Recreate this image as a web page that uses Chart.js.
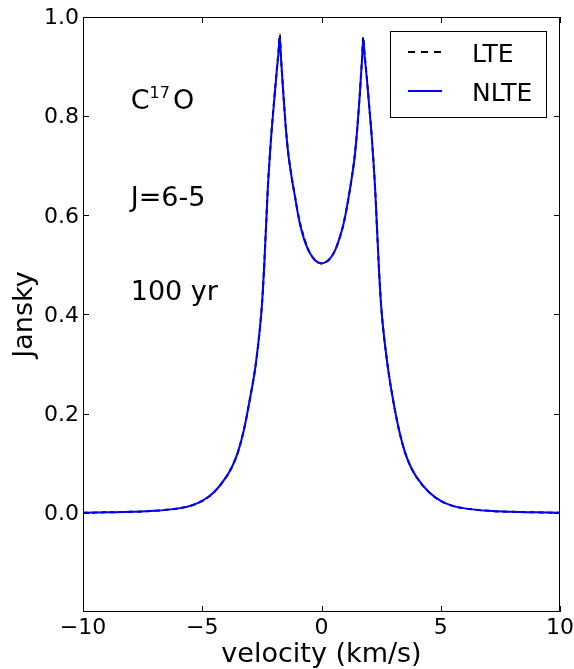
<!DOCTYPE html>
<html>
<head>
<meta charset="utf-8">
<script src="https://cdn.jsdelivr.net/npm/chart.js@4/dist/chart.umd.min.js"></script>
<style>
html, body { margin: 0; padding: 0; background: #fff; }
#wrap { width: 574px; height: 669px; }
</style>
</head>
<body>
<div id="wrap"><canvas id="myChart"></canvas></div>
<script>
// data
const velocity = [
    -10, -9, -8, -7, -6, -5.5, -5, -4.5, -4, -3.75, -3.5, -3.25, -3, -2.75, -2.5, -2.4, -2.25, -2.1,
    -2.0, -1.9, -1.8, -1.75, -1.7, -1.6, -1.5, -1.4, -1.25, -1.1, -1.0, -0.9, -0.75, -0.6, -0.45, -0.3, -0.15,
    0,
    0.15, 0.3, 0.45, 0.6, 0.75, 0.9, 1.0, 1.1, 1.25, 1.4, 1.5, 1.6, 1.7, 1.75, 1.8, 1.9, 2.0,
    2.1, 2.25, 2.4, 2.5, 2.75, 3, 3.25, 3.5, 3.75, 4, 4.5, 5, 5.5, 6, 7, 8, 9, 10
];
const nlteFlux = [
    0.000, 0.001, 0.002, 0.004, 0.009, 0.014, 0.024, 0.042, 0.072, 0.093, 0.123, 0.168, 0.230, 0.302, 0.418, 0.500, 0.655, 0.765,
    0.822, 0.878, 0.930, 0.960, 0.918, 0.845, 0.778, 0.727, 0.676, 0.634, 0.606, 0.582, 0.555, 0.535, 0.521, 0.511, 0.505,
    0.503,
    0.505, 0.510, 0.519, 0.533, 0.553, 0.578, 0.600, 0.626, 0.670, 0.722, 0.775, 0.840, 0.915, 0.955, 0.926, 0.876, 0.820,
    0.762, 0.652, 0.500, 0.418, 0.305, 0.228, 0.167, 0.122, 0.092, 0.071, 0.042, 0.024, 0.014, 0.009, 0.004, 0.002, 0.001, 0.000
];
const lteFlux = [
    0.000, 0.001, 0.002, 0.004, 0.009, 0.014, 0.024, 0.042, 0.072, 0.093, 0.123, 0.168, 0.230, 0.302, 0.418, 0.501, 0.656, 0.766,
    0.824, 0.880, 0.933, 0.965, 0.921, 0.846, 0.779, 0.728, 0.677, 0.635, 0.607, 0.584, 0.558, 0.536, 0.521, 0.511, 0.505,
    0.503,
    0.505, 0.510, 0.519, 0.533, 0.553, 0.578, 0.600, 0.626, 0.670, 0.723, 0.776, 0.841, 0.917, 0.960, 0.929, 0.878, 0.821,
    0.763, 0.652, 0.500, 0.418, 0.305, 0.228, 0.167, 0.122, 0.092, 0.071, 0.042, 0.024, 0.014, 0.009, 0.004, 0.002, 0.001, 0.000
];
const xTicks = [-10, -5, 0, 5, 10];
const yTicks = [0.0, 0.2, 0.4, 0.6, 0.8, 1.0];
const seriesLabels = ['LTE', 'NLTE'];

// text in the plot, placed in data units (v, Jy)
const noteText = ['J=6-5', '100 yr'];
const noteV = [-8, -8];
const noteJ = [0.618, 0.430];
const moleculeV = -8;
const moleculeJ = 0.814;

const FONT = 'DejaVu Sans';

const toPoints = (xs, ys) => xs.map((x, i) => ({ x: x, y: ys[i] }));

// box + inward ticks on all four sides, like the old matplotlib look
const framePlugin = {
    id: 'frame',
    afterDatasetsDraw(chart) {
        const { ctx, chartArea: a } = chart;
        const sx = chart.scales.x;
        const sy = chart.scales.y;
        const len = 6;
        ctx.save();
        ctx.strokeStyle = '#000';
        ctx.lineWidth = 1;
        ctx.strokeRect(a.left + 0.5, a.top + 0.5, a.right - a.left - 1, a.bottom - a.top - 1);
        ctx.beginPath();
        xTicks.forEach(v => {
            const px = Math.round(sx.getPixelForValue(v)) + 0.5;
            ctx.moveTo(px, a.bottom);
            ctx.lineTo(px, a.bottom - len);
            ctx.moveTo(px, a.top);
            ctx.lineTo(px, a.top + len);
        });
        yTicks.forEach(v => {
            const py = Math.round(sy.getPixelForValue(v)) + 0.5;
            ctx.moveTo(a.left, py);
            ctx.lineTo(a.left + len, py);
            ctx.moveTo(a.right, py);
            ctx.lineTo(a.right - len, py);
        });
        ctx.stroke();
        ctx.restore();
    }
};

const notesPlugin = {
    id: 'notes',
    afterDatasetsDraw(chart) {
        const { ctx } = chart;
        const sx = chart.scales.x;
        const sy = chart.scales.y;
        ctx.save();
        ctx.fillStyle = '#000';
        ctx.textBaseline = 'alphabetic';
        ctx.textAlign = 'left';

        // C^17 O
        let x = sx.getPixelForValue(moleculeV);
        const y = sy.getPixelForValue(moleculeJ);
        ctx.font = `27px "${FONT}"`;
        ctx.fillText('C', x, y);
        x += ctx.measureText('C').width;
        ctx.font = `16px "${FONT}"`;
        ctx.fillText('17', x, y - 11);
        x += ctx.measureText('17').width + 3;
        ctx.font = `27px "${FONT}"`;
        ctx.fillText('O', x, y);

        noteText.forEach((t, i) => {
            ctx.fillText(t, sx.getPixelForValue(noteV[i]), sy.getPixelForValue(noteJ[i]));
        });
        ctx.restore();
    }
};

const legendPlugin = {
    id: 'boxLegend',
    afterDraw(chart) {
        const { ctx } = chart;
        const bx = 390, by = 31, bw = 156, bh = 86;
        ctx.save();
        ctx.fillStyle = '#fff';
        ctx.fillRect(bx, by, bw, bh);
        ctx.strokeStyle = '#000';
        ctx.lineWidth = 1;
        ctx.strokeRect(bx + 0.5, by + 0.5, bw, bh);
        ctx.font = `25px "${FONT}"`;
        ctx.textBaseline = 'alphabetic';
        const rows = [21, 60];
        chart.data.datasets.forEach((ds, i) => {
            const ly = by + rows[i];
            ctx.beginPath();
            ctx.strokeStyle = ds.borderColor;
            ctx.lineWidth = ds.borderWidth;
            ctx.setLineDash(i === 0 ? [7, 6] : []);
            ctx.moveTo(bx + 18, ly);
            ctx.lineTo(bx + 52, ly);
            ctx.stroke();
            ctx.setLineDash([]);
            ctx.fillStyle = '#000';
            ctx.fillText(ds.label, bx + 82, ly + 9.5);
        });
        ctx.restore();
    }
};

const displayChart = () => {
    const ctx = document.getElementById('myChart');
    new Chart(ctx, {
        type: 'line',
        data: {
            datasets: [{
                label: seriesLabels[0],
                data: toPoints(velocity, lteFlux),
                borderColor: '#000000',
                borderWidth: 2,
                borderDash: [5, 4],
                pointRadius: 0,
                cubicInterpolationMode: 'monotone',
                order: 1
            }, {
                label: seriesLabels[1],
                data: toPoints(velocity, nlteFlux),
                borderColor: '#0000ff',
                borderWidth: 2,
                pointRadius: 0,
                cubicInterpolationMode: 'monotone',
                order: 0
            }]
        },
        options: {
            responsive: true,
            maintainAspectRatio: false,
            animation: false,
            events: [],
            layout: { padding: { top: 17, right: 14, left: 0, bottom: 0 } },
            plugins: {
                legend: { display: false },
                tooltip: { enabled: false }
            },
            scales: {
                x: {
                    type: 'linear',
                    min: -10,
                    max: 10,
                    afterBuildTicks: s => { s.ticks = xTicks.map(v => ({ value: v })); },
                    afterFit: s => { s.height = 57; s.paddingLeft = 0; s.paddingRight = 0; },
                    grid: { display: false, drawTicks: false },
                    border: { display: false },
                    ticks: {
                        color: '#000',
                        padding: 3,
                        maxRotation: 0,
                        autoSkip: false,
                        font: { family: FONT, size: 22 },
                        callback: v => String(v).replace('-', '\u2212')
                    },
                    title: {
                        display: true,
                        text: 'velocity (km/s)',
                        color: '#000',
                        font: { family: FONT, size: 27 },
                        padding: { top: 0, bottom: -2 }
                    }
                },
                y: {
                    type: 'linear',
                    min: -0.2,
                    max: 1.0,
                    afterBuildTicks: s => { s.ticks = yTicks.map(v => ({ value: v })); },
                    afterFit: s => { s.width = 83; s.paddingTop = 0; s.paddingBottom = 0; },
                    grid: { display: false, drawTicks: false },
                    border: { display: false },
                    ticks: {
                        color: '#000',
                        padding: 4,
                        labelOffset: 1.5,
                        autoSkip: false,
                        font: { family: FONT, size: 22 },
                        callback: v => v.toFixed(1)
                    },
                    title: {
                        display: true,
                        text: 'Jansky',
                        color: '#000',
                        font: { family: FONT, size: 27 },
                        padding: { top: 9, bottom: 0 }
                    }
                }
            }
        },
        plugins: [framePlugin, notesPlugin, legendPlugin]
    });
}

displayChart();
</script>
</body>
</html>
